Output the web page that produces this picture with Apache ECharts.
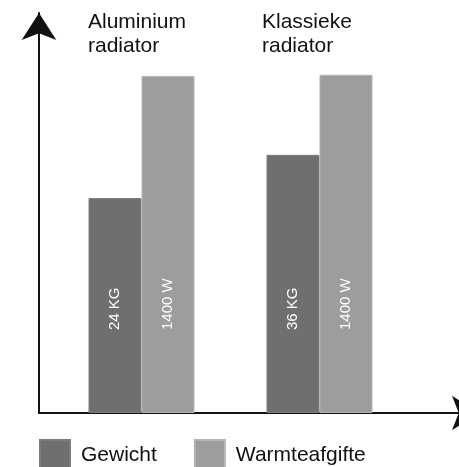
<!DOCTYPE html>
<html>
<head>
<meta charset="utf-8">
<script src="https://cdn.jsdelivr.net/npm/echarts@6/dist/echarts.min.js"></script>
<style>
html,body{margin:0;padding:0;background:#fff;}
#chart{width:459px;height:467px;}
</style>
</head>
<body>
<div id="chart"></div>
<script>
// Data
var categories = ['Aluminium\nradiator', 'Klassieke\nradiator'];
var seriesNames = ['Gewicht', 'Warmteafgifte'];
// relative bar heights (0-100 scale)
var gewichtHeights = [55.6, 66.8];
var warmteHeights = [87.2, 87.5];
// value labels shown inside bars
var gewichtLabels = ['24 KG', '36 KG'];
var warmteLabels = ['1400 W', '1400 W'];

var FONT = '"Liberation Sans", Arial, Helvetica, sans-serif';
var chart = echarts.init(document.getElementById('chart'), null, {renderer: 'canvas'});

function labelFor(arr) {
  return {
    show: true,
    position: 'insideBottom',
    distance: 83,
    rotate: 90,
    align: 'left',
    verticalAlign: 'middle',
    color: '#ffffff',
    fontFamily: FONT,
    fontSize: 15,
    formatter: function (p) { return arr[p.dataIndex]; }
  };
}

var option = {
  backgroundColor: '#ffffff',
  animation: false,
  title: [
    {text: categories[0], left: 88, top: 10, padding: 0,
     textStyle: {fontFamily: FONT, fontSize: 21, fontWeight: 'normal', color: '#111', lineHeight: 24}},
    {text: categories[1], left: 262, top: 10, padding: 0,
     textStyle: {fontFamily: FONT, fontSize: 21, fontWeight: 'normal', color: '#111', lineHeight: 24}}
  ],
  legend: {
    data: seriesNames,
    left: 39,
    top: 439,
    padding: 0,
    itemWidth: 30,
    itemHeight: 30,
    itemGap: 37,
    icon: 'rect',
    textStyle: {fontFamily: FONT, fontSize: 21, color: '#111', padding: [0, 0, 0, 6]}
  },
  grid: [
    {left: 39, right: -20, top: 13, bottom: 54, containLabel: false, outerBoundsMode: 'none'},
    {left: 52.5, right: 50.5, top: 26.5, bottom: 54, containLabel: false, outerBoundsMode: 'none'}
  ],
  xAxis: [
    {gridIndex: 0, type: 'value', min: 0, max: 1,
     axisLine: {show: true, onZero: false, symbol: ['none', 'arrow'], symbolSize: [26, 27],
                lineStyle: {color: '#111', width: 2}},
     axisTick: {show: false}, axisLabel: {show: false}, splitLine: {show: false}},
    {gridIndex: 1, type: 'category', data: categories,
     axisLine: {show: false}, axisTick: {show: false}, axisLabel: {show: false}, splitLine: {show: false}}
  ],
  yAxis: [
    {gridIndex: 0, type: 'value', min: 0, max: 1,
     axisLine: {show: true, onZero: false, symbol: ['none', 'arrow'], symbolSize: [26, 27],
                lineStyle: {color: '#111', width: 2}},
     axisTick: {show: false}, axisLabel: {show: false}, splitLine: {show: false}},
    {gridIndex: 1, type: 'value', min: 0, max: 100,
     axisLine: {show: false}, axisTick: {show: false}, axisLabel: {show: false}, splitLine: {show: false}}
  ],
  series: [
    {name: seriesNames[0], type: 'bar', xAxisIndex: 1, yAxisIndex: 1,
     data: gewichtHeights, barWidth: 53, barGap: '0%',
     itemStyle: {color: '#6f6f6f', borderColor: '#7c7c7c', borderWidth: 1},
     label: labelFor(gewichtLabels)},
    {name: seriesNames[1], type: 'bar', xAxisIndex: 1, yAxisIndex: 1,
     data: warmteHeights, barWidth: 53, barGap: '0%',
     itemStyle: {color: '#9d9d9c', borderColor: '#b4b4b4', borderWidth: 1},
     label: labelFor(warmteLabels)}
  ]
};
chart.setOption(option);
</script>
</body>
</html>
